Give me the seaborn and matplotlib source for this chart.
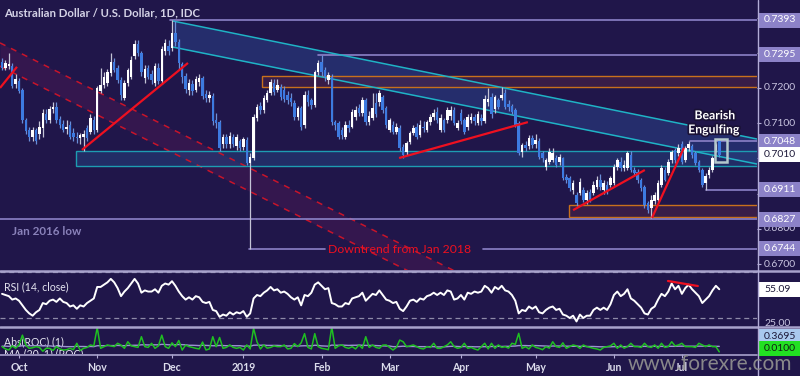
import numpy as np
import pandas as pd
import matplotlib
matplotlib.use("Agg")
import matplotlib.pyplot as plt
import matplotlib.patches as mpatches
import matplotlib.lines as mlines
import matplotlib.patheffects as pe
import seaborn as sns

# ---------------- data (prices in pips, x 1e-4) ----------------
start_date = "2018-09-24"
month_labels = ["Oct", "Nov", "Dec", "2019", "Feb", "Mar", "Apr", "May", "Jun", "Jul"]

open_pips = [
    7275,7258,7262,7262,7210,7220,7195,7110,7080,7060,
    7080,7070,7085,7125,7110,7140,7145,7112,7098,7084,
    7095,7072,7062,7058,7062,7085,7075,7110,7080,7190,
    7208,7214,7242,7274,7257,7223,7172,7215,7231,7290,
    7325,7300,7228,7257,7240,7215,7258,7220,7305,7320,
    7313,7356,7330,7268,7235,7195,7212,7195,7218,7228,
    7182,7172,7178,7110,7102,7040,7060,7040,7060,7034,
    7048,7032,7052,6988,7001,7115,7150,7137,7166,7186,
    7214,7194,7203,7195,7180,7172,7158,7118,7143,7095,
    7180,7166,7152,7245,7274,7250,7223,7231,7103,7100,
    7080,7062,7095,7090,7118,7143,7129,7166,7103,7115,
    7157,7160,7174,7143,7081,7095,7076,7086,7032,7018,
    7047,7072,7089,7066,7090,7081,7103,7118,7132,7081,
    7109,7109,7120,7137,7086,7130,7109,7089,7108,7118,
    7100,7115,7105,7160,7175,7140,7166,7172,7186,7155,
    7150,7137,7100,7018,7038,7035,7058,7040,7050,7015,
    6976,6990,6995,7000,6990,7001,6947,6944,6910,6896,
    6902,6910,6882,6905,6902,6919,6939,6910,6924,6924,
    6930,6976,6990,6973,6973,7010,6967,6961,6939,6919,
    6873,6859,6880,6882,6924,6967,6959,6995,7024,7015,
    7040,6995,7030,7035,7015,6990,6967,6930,6953,6967,
    7024,7048]
high_pips = [
    7285,7280,7300,7270,7240,7228,7200,7115,7090,7090,
    7085,7105,7140,7140,7150,7160,7160,7120,7110,7110,
    7105,7085,7075,7072,7080,7095,7125,7120,7205,7258,
    7245,7255,7300,7285,7265,7230,7222,7258,7292,7335,
    7335,7305,7265,7265,7252,7270,7270,7318,7340,7335,
    7393,7390,7338,7275,7242,7225,7222,7235,7240,7235,
    7195,7192,7185,7130,7110,7068,7070,7075,7070,7070,
    7055,7062,7060,7015,7125,7155,7160,7180,7195,7225,
    7225,7225,7212,7205,7190,7185,7165,7150,7150,7190,
    7195,7172,7250,7280,7295,7260,7245,7240,7110,7105,
    7090,7105,7110,7140,7150,7155,7175,7172,7135,7186,
    7186,7195,7180,7150,7115,7105,7100,7095,7040,7050,
    7078,7095,7100,7110,7105,7110,7125,7140,7145,7125,
    7115,7145,7150,7145,7110,7140,7115,7125,7130,7125,
    7135,7125,7180,7200,7185,7180,7172,7203,7198,7165,
    7155,7142,7105,7045,7050,7065,7065,7070,7058,7022,
    7000,7030,7030,7010,7012,7005,6955,6950,6940,6905,
    6945,6918,6910,6912,6935,6950,6955,6940,6935,6950,
    6985,7000,7005,6995,7022,7022,6975,6970,6945,6925,
    6880,6895,6905,6938,6980,6975,6998,7025,7030,7040,
    7048,7035,7048,7042,7020,6995,6972,6958,6975,7008,
    7045,7052]
low_pips = [
    7250,7252,7255,7200,7200,7185,7100,7070,7050,7050,
    7040,7055,7060,7100,7100,7130,7100,7085,7075,7070,
    7055,7050,7045,7040,7022,7050,7070,7070,7075,7185,
    7200,7205,7235,7245,7215,7165,7165,7205,7225,7282,
    7290,7235,7215,7225,7212,7205,7210,7212,7295,7295,
    7305,7320,7255,7215,7185,7180,7180,7188,7205,7170,
    7160,7160,7095,7085,7020,7030,7030,7030,7032,7025,
    7020,7025,6980,6744,6995,7105,7125,7130,7160,7180,
    7180,7188,7165,7160,7155,7150,7110,7110,7080,7085,
    7150,7140,7145,7238,7235,7220,7212,7095,7080,7055,
    7055,7055,7075,7085,7110,7120,7120,7095,7095,7110,
    7118,7150,7130,7085,7075,7070,7070,7022,7002,7010,
    7040,7065,7055,7060,7075,7075,7095,7110,7100,7075,
    7075,7100,7110,7095,7080,7098,7070,7080,7100,7095,
    7095,7095,7100,7150,7115,7130,7140,7165,7140,7135,
    7125,7090,7010,7005,7020,7028,7030,7030,6998,6990,
    6968,6985,6990,6975,6982,6940,6930,6908,6900,6866,
    6895,6875,6870,6875,6895,6912,6910,6900,6898,6918,
    6925,6968,6965,6965,6968,6960,6950,6930,6908,6860,
    6845,6831,6870,6875,6918,6935,6952,6988,6988,7008,
    6985,6990,7020,7000,6980,6960,6918,6911,6945,6960,
    7018,7005]
close_pips = [
    7258,7272,7268,7205,7225,7190,7110,7078,7060,7080,
    7050,7090,7128,7110,7140,7145,7108,7095,7082,7090,
    7062,7060,7058,7066,7068,7058,7115,7080,7200,7208,
    7231,7245,7274,7251,7223,7180,7215,7251,7279,7325,
    7300,7245,7255,7231,7223,7262,7220,7310,7328,7305,
    7356,7330,7270,7230,7196,7214,7190,7225,7228,7178,
    7172,7180,7105,7100,7030,7060,7040,7064,7040,7060,
    7030,7055,6988,7004,7118,7146,7137,7172,7186,7217,
    7189,7208,7175,7170,7166,7160,7118,7143,7090,7180,
    7160,7152,7245,7270,7245,7231,7237,7103,7095,7061,
    7065,7095,7086,7132,7137,7129,7166,7103,7120,7143,
    7125,7186,7137,7095,7109,7075,7090,7030,7010,7044,
    7072,7086,7061,7095,7086,7103,7118,7130,7109,7115,
    7081,7137,7137,7100,7100,7105,7075,7118,7118,7105,
    7125,7105,7170,7170,7125,7174,7146,7180,7146,7146,
    7132,7095,7015,7038,7030,7058,7038,7052,7004,7001,
    6995,7018,7015,6981,7004,6944,6939,6916,6930,6873,
    6933,6882,6902,6882,6924,6939,6919,6930,6905,6944,
    6976,6995,6973,6981,7015,6967,6959,6939,6916,6868,
    6853,6882,6895,6930,6973,6940,6990,7018,6995,7030,
    6990,7030,7040,7010,6987,6967,6924,6950,6967,7001,
    7038,7010]

rsi_values = [
    51,50,49,46,47,45,41,37,34,32,
    35,37,43,42,45,46,44,47,44,43,
    40,41,38,41,40,43,45,47,57,57,
    59,61,64,61,56,49,53,56,60,64,
    60,52,54,53,53,55,52,58,60,59,
    62,58,53,49,46,48,46,49,48,44,
    43,44,37,36,31,33,32,35,33,35,
    34,36,31,34,47,50,49,52,54,57,
    54,55,52,53,51,48,46,48,41,50,
    49,52,59,61,58,55,56,43,42,40,
    40,43,42,47,48,49,52,45,48,51,
    50,54,50,46,45,43,44,38,36,40,
    45,46,44,47,46,49,50,52,50,52,
    50,54,53,46,47,50,46,52,51,53,
    52,53,58,56,52,57,55,58,54,53,
    50,45,34,37,36,40,38,40,35,34,
    37,39,40,37,38,33,32,30,32,27,
    33,30,32,32,37,39,37,39,37,42,
    50,53,49,51,55,47,45,42,39,34,
    33,38,40,46,51,49,53,60,55,58,
    51,56,59,55,52,49,43,46,49,54,
    58,55]
rsi_last_label = "55.09"

# abs rate of change (hundredths of a percent) and its 20-bar average
abs_roc = [
    35,20,13,40,25,46,110,45,24,28,
    35,30,5,25,24,10,35,20,13,15,
    24,15,57,10,24,30,46,40,160,24,
    35,46,40,35,57,45,24,67,40,35,
    30,100,35,30,57,24,40,110,35,24,
    60,35,75,13,45,35,30,24,20,65,
    13,20,100,35,95,24,30,46,30,24,
    30,13,46,20,155,67,20,46,25,30,
    40,35,35,46,20,24,55,35,60,120,
    30,20,120,35,24,20,15,165,24,40,
    46,30,24,35,20,46,24,100,30,46,
    30,24,45,46,30,13,30,78,67,35,
    40,46,35,24,20,35,30,57,24,24,
    35,46,67,35,24,30,57,24,30,20,
    13,35,57,20,57,24,46,30,35,25,
    57,50,122,24,35,20,46,30,24,15,
    35,25,67,35,30,60,24,35,46,40,
    24,46,35,30,24,20,13,30,35,40,
    57,24,46,25,35,57,35,35,30,57,
    35,30,46,24,57,30,35,67,40,46,
    57,35,35,35,30,57,46,35,46,35,
    35,1]
roc_ma = [
    38,38,37,37,37,38,41,41,41,41,
    41,41,40,40,40,38,38,37,36,35,
    35,35,37,36,36,35,36,35,41,41,
    41,42,42,42,43,42,41,43,43,44,
    44,47,47,46,47,47,47,50,49,47,
    48,47,49,48,47,44,44,43,42,44,
    43,42,41,41,43,42,41,42,41,41,
    41,38,39,38,44,45,44,45,43,43,
    43,43,42,41,39,40,40,39,40,41,
    40,40,44,43,40,39,38,45,44,44,
    45,44,43,44,44,45,44,43,43,43,
    42,41,40,39,39,35,35,36,38,36,
    36,36,35,35,35,35,35,35,33,33,
    34,35,37,37,36,35,36,35,35,34,
    34,34,35,34,36,36,37,36,37,37,
    38,39,42,42,42,41,42,42,41,40,
    39,38,39,39,39,40,38,38,37,38,
    37,37,36,36,36,35,34,34,34,34,
    35,35,35,35,36,37,37,37,36,37,
    36,37,37,36,37,36,37,37,37,38,
    38,38,38,38,38,38,38,38,38,37,
    37,37]
roc_labels = ["0.3695", "0.0100"]

# chart annotations (bar index, price)
price_ticks = [0.67, 0.68, 0.69, 0.71, 0.72]
level_lines = [(0.7393, 49.5), (0.7295, 93.0), (0.7048, 202.5), (0.6911, 207.0), (0.6827, -0.6)]
level_tags = ["0.7393", "0.7295", "0.7048", "0.6911", "0.6827", "0.6744"]
jan16_segments = [(72.6, 95.0), (141.5, 223.0)]
jan16_low = 0.6744
current_close_tag = "0.7010"
cyan_upper = [(50.3, 0.7390), (222.1, 0.7055)]
cyan_lower = [(50.3, 0.7316), (222.1, 0.6984)]
red_dash_upper = [(-0.6, 0.7328), (152.0, 0.6589)]
red_dash_lower = [(-0.6, 0.7262), (152.0, 0.6523)]
zone_cyan = (21.8, 0.69785, 0.70210)
zone_orange_top = (76.5, 0.72036, 0.72348)
zone_orange_bottom = (166.8, 0.68326, 0.68676)
red_trendlines = [((-0.6, 0.7200), (4.4, 0.7260)),
                  ((23.5, 0.7024), (54.7, 0.7271)),
                  ((116.8, 0.7001), (154.7, 0.7103)),
                  ((168.0, 0.6853), (189.1, 0.6967)),
                  ((191.2, 0.6831), (200.6, 0.7030))]
rsi_trendline = ((195.9, 62.2), (204.7, 57.8))
engulf_box = (209.7, 213.2, 0.6990, 0.7055)

# ---------------- style ----------------
sns.set_theme(style="dark")
plt.rcParams['font.family'] = ['Lato', 'DejaVu Sans']

BG = '#20164a'
LAV = '#8c82c8'
AXC = '#b2acd6'
UPC = '#ffffff'
DNC = '#3d7ae0'
RED = '#ee1020'
CYAN = '#1fb3c6'
ORANGE = '#c8701c'
TXT = '#d4d2e6'

W, H = 800, 376
fig = plt.figure(figsize=(8, 3.76), dpi=100, facecolor=BG)
ax = fig.add_axes([0, 1 - 270 / H, 757 / W, 270 / H])
ax_rsi = fig.add_axes([0, 1 - 326 / H, 757 / W, 55 / H])
ax_roc = fig.add_axes([0, 1 - 354 / H, 757 / W, 27 / H])

n = len(close_pips)
x = np.arange(n)
dates = pd.bdate_range(start_date, periods=n)
month_pos = [i for i in range(1, n) if dates[i].month != dates[i - 1].month]

XL = (-0.6, 222.1)
for a in (ax, ax_rsi, ax_roc):
    a.set_facecolor(BG)
    a.set_xlim(*XL)
    a.grid(False)
    for s in a.spines.values():
        s.set_visible(False)
    a.set_xlabel('')
    a.set_ylabel('')

ax.set_ylim(0.66830, 0.74498)
ax_rsi.set_ylim(23.04, 70.87)
ax_roc.set_ylim(-0.131, 1.634)

# ---------------- main price panel ----------------
# red dashed down-channel
xu = [p[0] for p in red_dash_upper]
ax.fill_between(xu, [p[1] for p in red_dash_lower], [p[1] for p in red_dash_upper],
                color='#5a1a58', alpha=0.35, lw=0, zorder=1)
for ln in (red_dash_upper, red_dash_lower):
    ax.plot([p[0] for p in ln], [p[1] for p in ln], color='#c8142a', lw=1.1,
            ls=(0, (4, 4)), zorder=2)

# cyan channel
xc = [p[0] for p in cyan_upper]
ax.fill_between(xc, [p[1] for p in cyan_lower], [p[1] for p in cyan_upper],
                color='#2c4a96', alpha=0.45, lw=0, zorder=1)
for ln in (cyan_upper, cyan_lower):
    ax.plot([p[0] for p in ln], [p[1] for p in ln], color=CYAN, lw=1.1, zorder=3)

# zones
ax.add_patch(mpatches.Rectangle((zone_cyan[0], zone_cyan[1]), XL[1] + 2 - zone_cyan[0],
                                zone_cyan[2] - zone_cyan[1], facecolor='#25407e', alpha=0.55,
                                edgecolor='none', zorder=1))
ax.add_patch(mpatches.Rectangle((zone_cyan[0], zone_cyan[1]), XL[1] + 2 - zone_cyan[0],
                                zone_cyan[2] - zone_cyan[1], facecolor='none',
                                edgecolor='#1d9db2', lw=1.0, zorder=2))
for z in (zone_orange_top, zone_orange_bottom):
    ax.add_patch(mpatches.Rectangle((z[0], z[1]), XL[1] + 2 - z[0], z[2] - z[1],
                                    facecolor='#4a2246', alpha=0.6, edgecolor='none', zorder=1))
    ax.add_patch(mpatches.Rectangle((z[0], z[1]), XL[1] + 2 - z[0], z[2] - z[1],
                                    facecolor='none', edgecolor=ORANGE, lw=1.0, zorder=2))

# horizontal levels
for lvl, x0 in level_lines:
    ax.plot([x0, XL[1] + 2], [lvl, lvl], color=LAV, lw=1.2, zorder=2)
for x0, x1 in jan16_segments:
    ax.plot([x0, x1], [jan16_low, jan16_low], color=LAV, lw=1.2, zorder=2)

# candles
o = np.array(open_pips) / 1e4
h = np.array(high_pips) / 1e4
l = np.array(low_pips) / 1e4
c = np.array(close_pips) / 1e4
up = c >= o
body_lo = np.minimum(o, c)
body_h = np.maximum(np.abs(c - o), 0.00012)
ax.vlines(x[up], l[up], h[up], color='#c4c4d6', lw=0.9, zorder=4)
ax.vlines(x[~up], l[~up], h[~up], color='#6a8ed8', lw=0.9, zorder=4)
ax.bar(x[up], body_h[up], bottom=body_lo[up], width=0.74, color=UPC, lw=0, zorder=5)
ax.bar(x[~up], body_h[~up], bottom=body_lo[~up], width=0.74, color=DNC, lw=0, zorder=5)

# red trendlines
for (p0, p1) in red_trendlines:
    ax.plot([p0[0], p1[0]], [p0[1], p1[1]], color=RED, lw=1.6, zorder=6, solid_capstyle='butt')

# engulfing box
ax.add_patch(mpatches.Rectangle((engulf_box[0], engulf_box[2]), engulf_box[1] - engulf_box[0],
                                engulf_box[3] - engulf_box[2], facecolor='none',
                                edgecolor='#b4c8cc', lw=1.8, zorder=7))
shadow = [pe.withStroke(linewidth=2.5, foreground='#1a1236')]
ax.text(209.7, 0.7121, "Bearish", color='white', fontsize=8.8, fontweight='bold',
        ha='center', va='center', zorder=8, path_effects=shadow)
ax.text(209.4, 0.7081, "Engulfing", color='white', fontsize=8.8, fontweight='bold',
        ha='center', va='center', zorder=8, path_effects=shadow)
ax.text(95.9, 0.6740, "Downtrend from Jan 2018", color=RED, fontsize=8.8,
        ha='left', va='center', zorder=8)
ax.text(2.9, 0.6791, "Jan 2016 low", color='#8a82ba', fontsize=8.4, fontweight='bold',
        ha='left', va='center', zorder=8)

ax.set_xticks([])
ax.set_yticks([0.67, 0.68, 0.69, 0.70, 0.71, 0.72, 0.73, 0.74])
ax.tick_params(axis='y', left=False, right=True, labelleft=False, labelright=False,
               length=3, width=0.8, color=AXC)

fig.text(4 / W, 1 - 13 / H, "Australian Dollar / U.S. Dollar, 1D, IDC", color=TXT,
         fontsize=8.2, fontweight='bold', ha='left', va='center')

# ---------------- RSI panel ----------------
sns.lineplot(x=x, y=np.array(rsi_values), ax=ax_rsi, color='white', linewidth=1.4, zorder=3)
for lv in (70, 30):
    ax_rsi.axhline(lv, color='#8e8aa8', lw=0.9, ls=(0, (4, 3)), zorder=1)
ax_rsi.plot([rsi_trendline[0][0], rsi_trendline[1][0]], [rsi_trendline[0][1], rsi_trendline[1][1]],
            color=RED, lw=1.6, zorder=4)
ax_rsi.text(0.005, 0.71, "RSI (14, close)", transform=ax_rsi.transAxes, color='#e4e4f0',
            fontsize=7.6, ha='left', va='center', zorder=2)
ax_rsi.set_xticks([])
ax_rsi.set_yticks([])
ax_rsi.set_xlabel('')
ax_rsi.set_ylabel('')

# ---------------- ROC panel ----------------
ax_roc.text(0.005, 0.45, "Abs(ROC) (1)", transform=ax_roc.transAxes, color='#e4e4f0',
            fontsize=7.6, ha='left', va='center', zorder=1)
ax_roc.text(0.005, 0.02, "MA (20, 1) (ROC)", transform=ax_roc.transAxes, color='#e4e4f0',
            fontsize=7.6, ha='left', va='center', zorder=1, clip_on=True)
sns.lineplot(x=x, y=np.array(roc_ma) / 100, ax=ax_roc, color='#9c94d0', linewidth=1.0, zorder=2)
sns.lineplot(x=x, y=np.array(abs_roc) / 100, ax=ax_roc, color='#1fbf22', linewidth=1.1, zorder=3)
ax_roc.set_yticks([])
ax_roc.set_xticks(month_pos)
ax_roc.set_xticklabels(month_labels)
ax_roc.tick_params(axis='x', bottom=True, length=3, width=0.8, color=AXC,
                   labelcolor='#dcdcec', labelsize=7.6, pad=3)
for lbl in ax_roc.get_xticklabels():
    lbl.set_fontweight('bold')
ax_roc.set_xlabel('')
ax_roc.set_ylabel('')

# ---------------- right-hand labels ----------------
inv = fig.transFigure.inverted()


def yfig(axis, value):
    return inv.transform(axis.transData.transform((0, value)))[1]


def tag(axis, value, text, face, tc, z, dy_px=0.0, fs=7.5):
    yf = yfig(axis, value) - dy_px / H
    if face is not None:
        fig.add_artist(mpatches.Rectangle((758 / W, yf - 7.5 / H), 42 / W, 15 / H,
                                          transform=fig.transFigure, facecolor=face,
                                          edgecolor='none', zorder=z))
    fig.text(764 / W, yf, text, color=tc, fontsize=fs, ha='left', va='center', zorder=z + 0.5)


for t in price_ticks:
    tag(ax, t, f"{t:.4f}", None, '#c8c4e0', 2)
for lvl_txt in level_tags:
    tag(ax, float(lvl_txt), lvl_txt, LAV, 'white', 3)
tag(ax, float(current_close_tag), current_close_tag, 'white', '#1c1838', 3)

# RSI right area
fig.add_artist(mpatches.Rectangle((757.5 / W, 1 - 326 / H), 42.5 / W, 55 / H,
                                  transform=fig.transFigure, facecolor=BG, edgecolor='none', zorder=4))
tag(ax_rsi, 50, "50.00", None, '#c8c4e0', 5)
tag(ax_rsi, 25, "25.00", None, '#c8c4e0', 5)
tag(ax_rsi, float(rsi_last_label), rsi_last_label, 'white', '#1c1838', 5.6)

# ROC right area
fig.add_artist(mpatches.Rectangle((757.5 / W, 1 - 354 / H), 42.5 / W, 27 / H,
                                  transform=fig.transFigure, facecolor=BG, edgecolor='none', zorder=6))
tag(ax_roc, float(roc_labels[0]), roc_labels[0], '#a9c9ee', '#1c1838', 7, dy_px=-10)
tag(ax_roc, float(roc_labels[1]), roc_labels[1], '#22e022', '#102010', 7, dy_px=-3)

# separators and right axis line
for yp, lw in ((270.5, 1.8), (326.5, 1.8)):
    fig.add_artist(mlines.Line2D([0, 1], [1 - yp / H, 1 - yp / H], transform=fig.transFigure,
                                 color='#a8a2cc', lw=lw, zorder=9))
fig.add_artist(mlines.Line2D([0, 757 / W], [1 - 354.5 / H, 1 - 354.5 / H], transform=fig.transFigure,
                             color='#a8a2cc', lw=1.2, zorder=9))
fig.add_artist(mlines.Line2D([757.5 / W, 757.5 / W], [0, 1], transform=fig.transFigure,
                             color=AXC, lw=1.0, zorder=9))

fig.text(628 / W, 1 - 364 / H, "www.forexre.com", color='#8e8e8e', fontsize=15,
         ha='left', va='center', zorder=10, alpha=0.95)

fig.savefig("out.png", dpi=100, facecolor=BG)
